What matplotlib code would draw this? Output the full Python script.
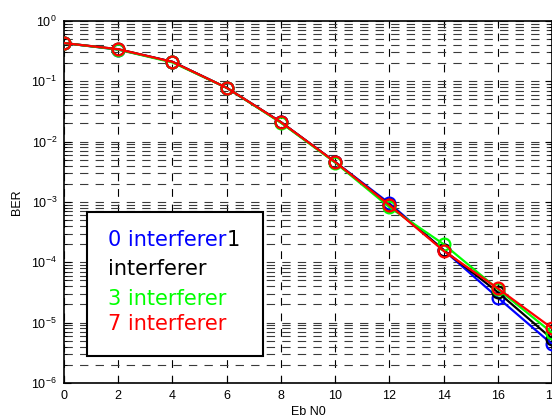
import numpy as np
import matplotlib
matplotlib.use("Agg")
import matplotlib.pyplot as plt
from matplotlib.patches import Rectangle

plt.rcParams['font.family'] = ['Liberation Sans', 'DejaVu Sans']
plt.rcParams['mathtext.default'] = 'regular'

# =============================
# Data
# =============================

ebn0 = [0, 2, 4, 6, 8, 10, 12, 14, 16, 18]

ber_0 = [0.43, 0.335, 0.21, 0.078, 0.021, 0.0046, 0.00095, 1.6e-4, 2.6e-5, 4.4e-6]
ber_1 = [0.43, 0.34, 0.21, 0.078, 0.021, 0.0046, 0.00090, 1.6e-4, 3.2e-5, 5.4e-6]
ber_3 = [0.43, 0.335, 0.205, 0.078, 0.0205, 0.0045, 0.00082, 2.0e-4, 3.6e-5, 6.8e-6]
ber_7 = [0.43, 0.34, 0.21, 0.078, 0.021, 0.0046, 0.00089, 1.55e-4, 3.7e-5, 8.1e-6]

series = [(ber_0, "#0000ff"), (ber_1, "#000000"), (ber_3, "#00ff00"), (ber_7, "#ff0000")]

# =============================
# Plot
# =============================

fig = plt.figure(figsize=(5.52, 4.19), dpi=100)
ax = fig.add_axes([0.116, 0.086, 0.884, 0.864])

for vals, col in series:
    ax.semilogy(ebn0, vals, color=col, lw=1.6, marker='o', ms=8.5,
                mfc='none', mec=col, mew=1.6, zorder=3)

ax.set_xlim(0, 18)
ax.set_ylim(1e-6, 1)
ax.set_xticks(range(0, 19, 2))

ax.grid(True, which='major', axis='x', color='black', ls=(0, (7, 7)), lw=0.8)
ax.grid(True, which='both', axis='y', color='#3a3a3a', ls=(0, (7.5, 6.5)), lw=0.8)

ax.tick_params(which='both', direction='in', top=True, right=True, labelsize=9)
ax.tick_params(which='major', length=5, pad=5)
ax.tick_params(which='minor', length=2.5)
for s in ax.spines.values():
    s.set_linewidth(1.2)

ax.set_xlabel("Eb N0", fontsize=9, labelpad=3)
ax.set_ylabel("BER", fontsize=9, labelpad=6)

# legend box with coloured text only
ax.add_patch(Rectangle((0.047, 0.075), 0.36, 0.397, transform=ax.transAxes,
                       facecolor='white', edgecolor='black', lw=1.5, zorder=5))
t0 = ax.text(0.09, 0.395, "0 interferer", transform=ax.transAxes, color='#0000ff',
             fontsize=15, family='DejaVu Sans', va='center', zorder=6)
fig.canvas.draw()
bb = t0.get_window_extent().transformed(ax.transAxes.inverted())
ax.text(bb.x1, 0.395, "1", transform=ax.transAxes, color='black',
        fontsize=15, family='DejaVu Sans', va='center', zorder=6)
ax.text(0.09, 0.316, "interferer", transform=ax.transAxes, color='black',
        fontsize=15, family='DejaVu Sans', va='center', zorder=6)
ax.text(0.09, 0.233, "3 interferer", transform=ax.transAxes, color='#00ff00',
        fontsize=15, family='DejaVu Sans', va='center', zorder=6)
ax.text(0.09, 0.163, "7 interferer", transform=ax.transAxes, color='#ff0000',
        fontsize=15, family='DejaVu Sans', va='center', zorder=6)

plt.savefig("out.png", dpi=100)
